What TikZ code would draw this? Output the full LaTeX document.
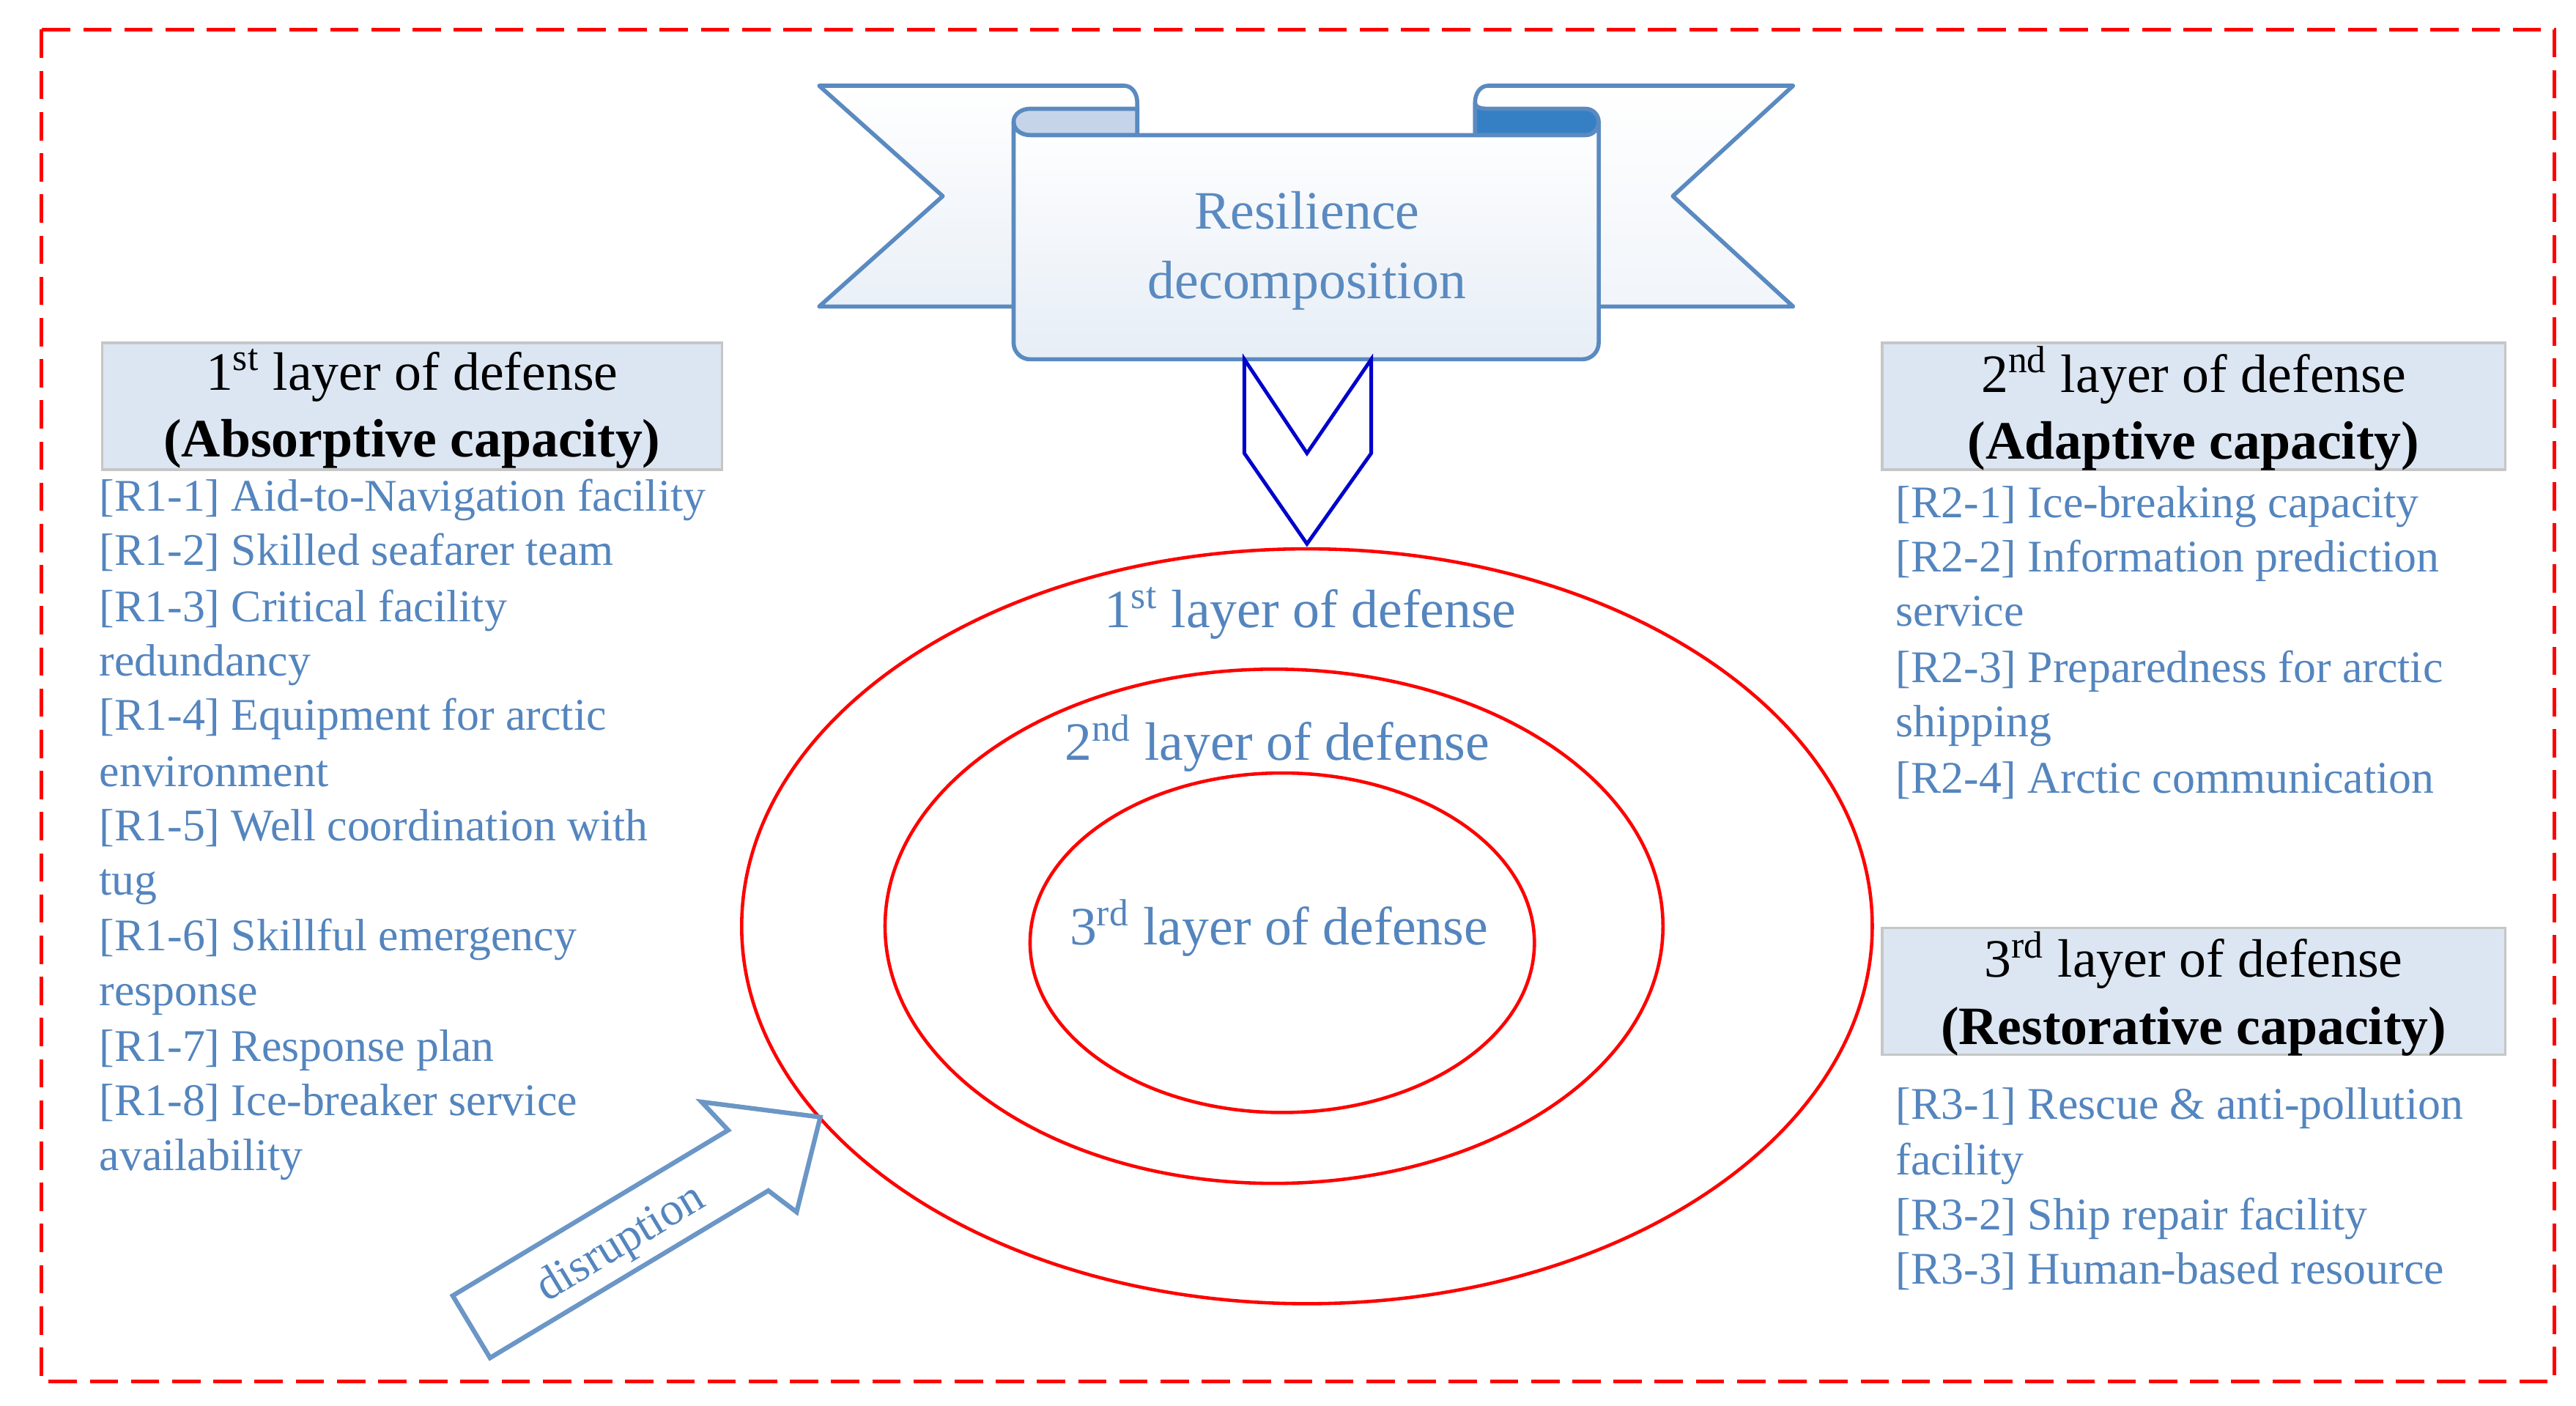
\documentclass[tikz,border=0pt]{standalone}
\usepackage{fontspec}
\setmainfont{Liberation Serif}
\definecolor{bl}{HTML}{5485BE}
\definecolor{bo}{HTML}{5A8AC0}
\definecolor{hd}{HTML}{DCE6F2}
\definecolor{lb}{HTML}{C6D4EA}
\definecolor{db}{HTML}{3580C4}
\definecolor{ch}{HTML}{0000CC}
\begin{document}
\begin{tikzpicture}[x=0.0225cm,y=-0.0225cm,
  item/.style={anchor=base west,inner sep=0,text=bl,font=\fontsize{17.6}{20}\selectfont},
  head/.style={fill=hd,draw=gray!45,line width=1pt},
  htxt/.style={align=center,inner sep=0,font=\fontsize{21}{26}\selectfont},
  ring/.style={draw=red,line width=1.3pt},
  rlab/.style={text=bl,inner sep=0,font=\fontsize{21}{24}\selectfont},
  ban/.style={draw=bo,line width=1.6pt,line join=round}]
\useasboundingbox (0,0) rectangle (1563,853);
\draw[red,line width=1.4pt,dash pattern=on 11pt off 5pt] (25,18) rectangle (1550,838);
% banner
\shade[ban,top color=white,bottom color=hd!60] (497,52)--(682,52) to[out=0,in=90] (690,62)--(690,186)--(497,186)--(572,119)--cycle;
\shade[ban,top color=white,bottom color=hd!40] (1088,52)--(903,52) to[out=180,in=90] (895,62)--(895,186)--(1088,186)--(1015,119)--cycle;
\fill[lb,draw=bo,line width=1.6pt] (690,66)--(690,82)--(625,82) to[out=180,in=270] (615,74) to[out=90,in=180] (625,66)--cycle;
\fill[db,draw=bo,line width=1.6pt] (895,62)--(895,82)--(962,82) to[out=0,in=270] (970,74) to[out=90,in=0] (962,66)--(905,66) to[out=180,in=270] (895,62);
\shade[ban,top color=white,bottom color=hd!70] (615,74) to[out=270,in=180] (625,82) -- (962,82) to[out=0,in=270] (970,74) -- (970,208) to[out=270,in=0] (960,218) -- (625,218) to[out=180,in=270] (615,208) -- cycle;
\node (res) [text=bo,align=center,inner sep=0,font=\fontsize{21}{27}\selectfont] at (793,152) {Resilience\\decomposition};
\draw[ch,line width=1.4pt,line join=miter] (755,218)--(793,275)--(832,218)--(832,275)--(793,330)--(755,275)--cycle;
% rings
\draw[ring] (793,562) ellipse [x radius=343,y radius=229];
\draw[ring] (773,562) ellipse [x radius=236,y radius=156];
\draw[ring] (778,572) ellipse [x radius=153,y radius=103];
\node (c1) [rlab] at (795,372) {1\textsuperscript{st} layer of defense};
\node (c2) [rlab] at (775,451) {2\textsuperscript{nd} layer of defense};
\node (c3) [rlab] at (776,563) {3\textsuperscript{rd} layer of defense};
% disruption arrow
\begin{scope}[shift={(286,805)},rotate=31]
\draw[draw=bo!90,line width=1.8pt,line join=miter] (0,-22)--(195,-22)--(190,-45)--(247,0)--(205,42)--(197,22)--(0,22)--cycle;
\end{scope}
\node (dis) [text=bl,rotate=31,inner sep=0,font=\fontsize{18}{19}\selectfont] at (377,755) {disruption};
% headers
\draw[head] (62,208) rectangle (438,285);
\node (h1) [htxt] at (250,248) {1\textsuperscript{st} layer of defense\\\textbf{(Absorptive capacity)}};
\draw[head] (1142,208) rectangle (1520,285);
\node (h2) [htxt] at (1331,248) {2\textsuperscript{nd} layer of defense\\\textbf{(Adaptive capacity)}};
\draw[head] (1142,563) rectangle (1520,640);
\node (h3) [htxt] at (1331,603) {3\textsuperscript{rd} layer of defense\\\textbf{(Restorative capacity)}};
% left list
\node (a1) [item] at (60,310) {[R1-1] Aid-to-Navigation facility};
\node (a2) [item] at (60,343) {[R1-2] Skilled seafarer team};
\node (a3) [item] at (60,377) {[R1-3] Critical facility};
\node (a4) [item] at (60,410) {redundancy};
\node (a5) [item] at (60,443) {[R1-4] Equipment for arctic};
\node (a6) [item] at (60,477) {environment};
\node (a7) [item] at (60,510) {[R1-5] Well coordination with};
\node (a8) [item] at (60,543) {tug};
\node (a9) [item] at (60,577) {[R1-6] Skillful emergency};
\node (a10) [item] at (60,610) {response};
\node (a11) [item] at (60,644) {[R1-7] Response plan};
\node (a12) [item] at (60,677) {[R1-8] Ice-breaker service};
\node (a13) [item] at (60,710) {availability};
% right lists
\node (b1) [item] at (1150,314) {[R2-1] Ice-breaking capacity};
\node (b2) [item] at (1150,347) {[R2-2] Information prediction};
\node (b3) [item] at (1150,380) {service};
\node (b4) [item] at (1150,414) {[R2-3] Preparedness for arctic};
\node (b5) [item] at (1150,447) {shipping};
\node (b6) [item] at (1150,481) {[R2-4] Arctic communication};
\node (d1) [item] at (1150,679) {[R3-1] Rescue \& anti-pollution};
\node (d2) [item] at (1150,713) {facility};
\node (d3) [item] at (1150,746) {[R3-2] Ship repair facility};
\node (d4) [item] at (1150,779) {[R3-3] Human-based resource};
\end{tikzpicture}
\end{document}
